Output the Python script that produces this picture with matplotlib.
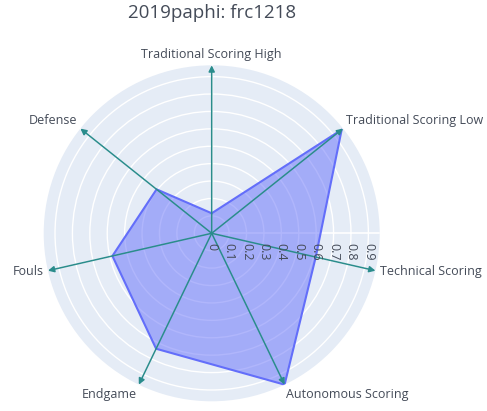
import numpy as np
import matplotlib as mpl
import matplotlib.pyplot as plt

mpl.rcParams['font.family'] = ['Open Sans', 'DejaVu Sans']

# data
title = "2019paphi: frc1218"
categories = ['Traditional Scoring High', 'Traditional Scoring Low', 'Technical Scoring',
              'Autonomous Scoring', 'Endgame', 'Fouls', 'Defense']
values = [0.115, 0.955, 0.613, 0.965, 0.736, 0.585, 0.405]
rticks = [0, 0.1, 0.2, 0.3, 0.4, 0.5, 0.6, 0.7, 0.8, 0.9]
rtick_labels = ['0', '0.1', '0.2', '0.3', '0.4', '0.5', '0.6', '0.7', '0.8', '0.9']

text_col = '#444b58'
bg_col = '#e5ecf6'
trace_col = '#636efa'
arrow_col = '#2a8c8c'

W, H = 487, 411
fig = plt.figure(figsize=(W / 100, H / 100), dpi=100)

# polar area: centre (211.7, 233.3) px, radius 168 px
cx, cy, R = 211.7, 233.3, 168
ax = fig.add_axes([(cx - R) / W, (H - cy - R) / H, 2 * R / W, 2 * R / H], projection='polar')
ax.set_facecolor(bg_col)
ax.spines['polar'].set_visible(False)

n = len(categories)
# clockwise from the top, like plotly
theta = np.deg2rad(90 - np.arange(n) * 360 / n)
rmax = max(values)
ax.set_ylim(0, rmax)

ax.set_thetagrids(np.rad2deg(theta) % 360, labels=[''] * n)
ax.set_rgrids(rticks[1:], labels=[''] * (len(rticks) - 1))
ax.grid(True, color='white', lw=1.0)
ax.tick_params(pad=0)

# radial axis line along angle 0
ax.plot([0, 0], [0, rmax], color='white', lw=1.2, zorder=1.6)

# filled trace
th_closed = np.append(theta, theta[0])
v_closed = np.append(values, values[0])
ax.fill(th_closed, v_closed, color=trace_col, alpha=0.5, lw=0, zorder=2)
ax.plot(th_closed, v_closed, color=trace_col, lw=1.5, zorder=2.1)

# arrows from centre to each category
for t in theta:
    ax.annotate('', xy=(t, rmax), xytext=(t, 0),
                arrowprops=dict(arrowstyle='-|>', color=arrow_col, lw=1.1,
                                mutation_scale=9, shrinkA=0, shrinkB=0),
                zorder=3, annotation_clip=False)

# category labels outside the circle
for t, lab in zip(theta, categories):
    c, s = np.cos(t), np.sin(t)
    ha = 'left' if c > 0.1 else ('right' if c < -0.1 else 'center')
    va = 'bottom' if s > 0.9 else ('top' if s < -0.5 else 'center')
    dy = 4 if va == 'center' and s > 0.3 else 0
    ax.annotate(lab, xy=(t, rmax), xytext=(3 * c, 3 * s + dy), textcoords='offset points',
                ha=ha, va=va, fontsize=9, color=text_col, annotation_clip=False)

# radial tick labels, rotated, below the axis line
for r, lab in zip(rticks, rtick_labels):
    ax.annotate(lab, xy=(0, r), xytext=(0, -7), textcoords='offset points',
                rotation=-90, ha='center', va='top', fontsize=9, color=text_col,
                zorder=4, annotation_clip=False)

fig.text(cx / W, 1 - 13 / H, title, ha='center', va='center', fontsize=13.5, color=text_col)

fig.savefig('out.png', dpi=100, facecolor='white')
